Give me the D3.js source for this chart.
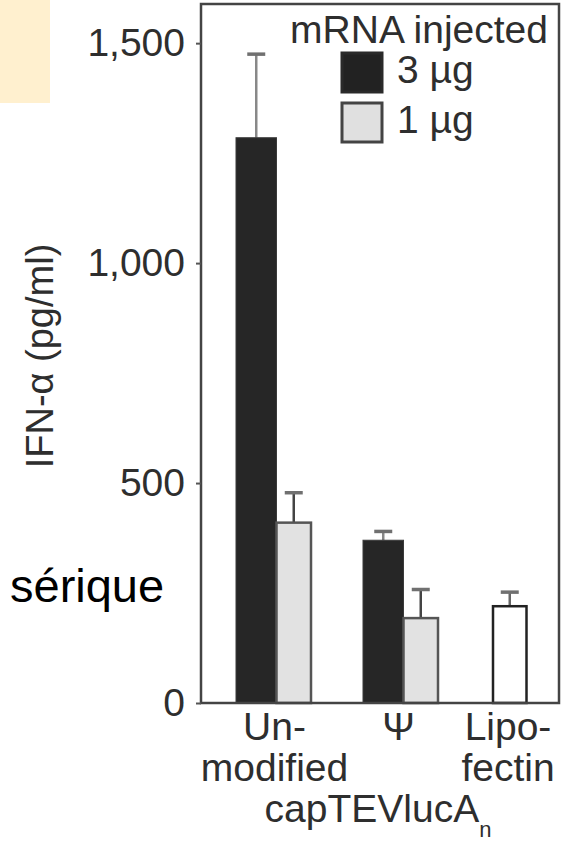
<!DOCTYPE html>
<html>
<head>
<meta charset="utf-8">
<script src="https://cdn.jsdelivr.net/npm/d3@7"></script>
<style>
  html, body { margin: 0; padding: 0; background: #fff; }
  svg { display: block; }
  text { font-family: "Liberation Sans", Arial, sans-serif; }
</style>
</head>
<body>
<script>
// ---- data ----
const categories = ["Unmodified", "Ψ", "Lipofectin"];
const seriesNames = ["3 µg", "1 µg"];
const dose3 = [1285, 370, null];
const dose3Err = [190, 20, null];
const dose1 = [410, 193, null];
const dose1Err = [68, 65, null];
const lipofectin = [null, null, 220];
const lipofectinErr = [null, null, 32];
const yTicks = [0, 500, 1000, 1500];
const xLabelLines = [["Un-", "modified"], ["Ψ"], ["Lipo-", "fectin"]];

// ---- layout ----
const W = 577, H = 842;
const plot = { left: 201, right: 559, top: 4, bottom: 703 };
const svg = d3.select("body").append("svg").attr("width", W).attr("height", H);

// pale side panel & "sérique"
svg.append("rect").attr("x", 0).attr("y", 0).attr("width", 50).attr("height", 103).attr("fill", "#fff0cf");
svg.append("text").attr("x", 10).attr("y", 602).attr("font-size", 47).attr("fill", "#000").text("sérique");

const y = d3.scaleLinear().domain([0, 1589]).range([plot.bottom, plot.top]);
const x = d3.scaleBand().domain(categories).range([236, 567]).paddingInner(50 / 127).paddingOuter(0);
const xs = d3.scaleBand().domain(seriesNames).range([0, x.bandwidth()]);

const textCol = "#2e2e2e";

// bars
const bars = [];
categories.forEach((c, i) => {
  if (dose3[i] != null) bars.push({ c, s: "3 µg", v: dose3[i], e: dose3Err[i], fill: "#262626", stroke: "#3a3a3a", sw: 1, errCol: "#888", off: 0, w: xs.bandwidth() + 2 });
  if (dose1[i] != null) bars.push({ c, s: "1 µg", v: dose1[i], e: dose1Err[i], fill: "#e2e2e2", stroke: "#555", sw: 2.5, errCol: "#444", off: 2, w: xs.bandwidth() - 4 });
  if (lipofectin[i] != null) bars.push({ c, s: "3 µg", v: lipofectin[i], e: lipofectinErr[i], fill: "#fff", stroke: "#222", sw: 2.5, errCol: "#666", off: 3, w: xs.bandwidth() - 5 });
});

const g = svg.append("g");
// error bars (drawn behind bars)
bars.forEach(b => {
  const cx = x(b.c) + xs(b.s) + b.off + b.w / 2;
  g.append("line").attr("x1", cx).attr("x2", cx).attr("y1", y(b.v)).attr("y2", y(b.v + b.e))
    .attr("stroke", b.errCol).attr("stroke-width", 2.5);
  g.append("line").attr("x1", cx - 9).attr("x2", cx + 9).attr("y1", y(b.v + b.e)).attr("y2", y(b.v + b.e))
    .attr("stroke", "#707070").attr("stroke-width", 3.5);
});
bars.forEach(b => {
  g.append("rect")
    .attr("x", x(b.c) + xs(b.s) + b.off)
    .attr("y", y(b.v))
    .attr("width", b.w)
    .attr("height", y(0) - y(b.v))
    .attr("fill", b.fill).attr("stroke", b.stroke).attr("stroke-width", b.sw);
});

// frame
svg.append("rect").attr("x", plot.left).attr("y", plot.top)
  .attr("width", plot.right - plot.left).attr("height", plot.bottom - plot.top)
  .attr("fill", "none").attr("stroke", "#444").attr("stroke-width", 2.5);

// y axis
const yAxis = d3.axisLeft(y).tickValues(yTicks).tickSize(5).tickPadding(11).tickFormat(d3.format(","));
const ya = svg.append("g").attr("transform", `translate(${plot.left},0)`).call(yAxis);
ya.select(".domain").remove();
ya.selectAll(".tick line").attr("stroke", "#555").attr("stroke-width", 2);
ya.selectAll(".tick text").attr("font-size", 39).attr("fill", textCol)
  .attr("font-family", "Liberation Sans, Arial, sans-serif");

// y title
svg.append("text").attr("transform", "translate(53,356) rotate(-90)")
  .attr("text-anchor", "middle").attr("font-size", 38).attr("fill", textCol)
  .text("IFN-α (pg/ml)");

// x labels
categories.forEach((c, i) => {
  const cx = c === "Lipofectin" ? x(c) + 18 : (c === "Ψ" ? x(c) + x.bandwidth() / 2 - 3 : x(c) + x.bandwidth() / 2);
  xLabelLines[i].forEach((ln, j) => {
    svg.append("text").attr("x", cx).attr("y", 740 + j * 41)
      .attr("text-anchor", "middle").attr("font-size", 39).attr("fill", textCol).text(ln);
  });
});
const xt = svg.append("text").attr("x", (plot.left + plot.right) / 2 - 2).attr("y", 822)
  .attr("text-anchor", "middle").attr("font-size", 39).attr("fill", textCol);
xt.append("tspan").text("capTEVlucA");
xt.append("tspan").attr("font-size", 22).attr("dy", 15).text("n");

// legend
svg.append("text").attr("x", 548).attr("y", 43).attr("text-anchor", "end")
  .attr("font-size", 39).attr("fill", textCol).text("mRNA injected");
const legFills = [{ fill: "#222", stroke: "#2a2a2a" }, { fill: "#e0e0e0", stroke: "#444" }];
seriesNames.forEach((s, i) => {
  const ly = 53 + i * 50;
  svg.append("rect").attr("x", 342).attr("y", ly).attr("width", 40).attr("height", 39)
    .attr("fill", legFills[i].fill).attr("stroke", legFills[i].stroke).attr("stroke-width", 3);
  svg.append("text").attr("x", 397).attr("y", ly + 30).attr("font-size", 39).attr("fill", textCol).text(s);
});
</script>
</body>
</html>
